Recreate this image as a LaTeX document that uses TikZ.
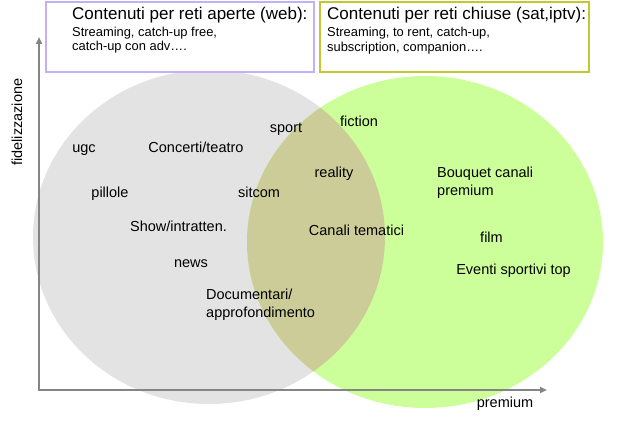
\documentclass[tikz,border=0pt]{standalone}
\usepackage{fontspec}
\setmainfont{Liberation Sans}
\usetikzlibrary{arrows.meta}
\definecolor{graycirc}{HTML}{E3E3E3}
\definecolor{greencirc}{HTML}{CCFF99}
\definecolor{overlapcol}{HTML}{CCCC99}
\definecolor{axisgray}{HTML}{858585}
\definecolor{webborder}{HTML}{C4B0F8}
\definecolor{satborder}{HTML}{C0C832}
\begin{document}
\begin{tikzpicture}[x=1pt,y=-1pt,
  lbl/.style={inner sep=0pt, font=\fontsize{14.5}{17}\selectfont},
  boxtitle/.style={inner sep=0pt, anchor=base west, font=\fontsize{17}{20}\selectfont},
  boxline/.style={inner sep=0pt, anchor=base west, font=\fontsize{12.9}{15}\selectfont},
  contentbox/.style={draw, fill=white, line width=2pt, inner sep=0pt, anchor=north west,
    minimum width=268pt, minimum height=70pt},
  axisline/.style={draw=axisgray, line width=2pt,
    {Triangle[length=7pt,width=6pt]}-{Triangle[length=7pt,width=6pt]}}
]
\useasboundingbox (0,0) rectangle (627,433);
% circles
\fill[graycirc] (209,237) ellipse [x radius=176, y radius=167];
\fill[greencirc] (425,242) ellipse [x radius=178, y radius=166];
\begin{scope}
  \clip (209,237) ellipse [x radius=176, y radius=167];
  \fill[overlapcol] (425,242) ellipse [x radius=178, y radius=166];
\end{scope}
% axes
\coordinate (ytip) at (39,37);
\coordinate (xtip) at (547,390);
\draw[axisline] (ytip) |- (xtip);
\node[lbl, anchor=base] (xlab) at (505,407) {premium};
\node[lbl, anchor=base west, rotate=90] (ylab) at (22,166) {fidelizzazione};
% boxes
\node[contentbox, draw=webborder] (web) at (45,1) {};
\node[contentbox, draw=satborder, minimum width=269pt] (sat) at (319,1) {};
\node[boxtitle] (webt) at (72,20) {Contenuti per reti aperte (web):};
\node[boxline] (web1) at (72,37) {Streaming, catch-up free,};
\node[boxline] (web2) at (72,51) {catch-up con adv….};
\node[boxtitle] (satt) at (327,20) {Contenuti per reti chiuse (sat,iptv):};
\node[boxline] (sat1) at (327,37) {Streaming, to rent, catch-up,};
\node[boxline] (sat2) at (327,52) {subscription, companion….};
% labels
\node[lbl, anchor=base] (ugc) at (84,153) {ugc};
\node[lbl, anchor=base] (concerti) at (196,153) {Concerti/teatro};
\node[lbl, anchor=base] (pillole) at (110,197) {pillole};
\node[lbl, anchor=base] (sport) at (286,133) {sport};
\node[lbl, anchor=base] (fiction) at (359,127) {fiction};
\node[lbl, anchor=base] (reality) at (334,178) {reality};
\node[lbl, anchor=base] (sitcom) at (259,197) {sitcom};
\node[lbl, anchor=base west] (bouquet1) at (437,178) {Bouquet canali};
\node[lbl, anchor=base west] (bouquet2) at (437,196) {premium};
\node[lbl, anchor=base] (show) at (178.5,231) {Show/intratten.};
\node[lbl, anchor=base] (tematici) at (356.5,235) {Canali tematici};
\node[lbl, anchor=base] (film) at (491.5,242) {film};
\node[lbl, anchor=base] (news) at (191,267) {news};
\node[lbl, anchor=base] (eventi) at (513.5,274) {Eventi sportivi top};
\node[lbl, anchor=base west] (doc1) at (206,299) {Documentari/};
\node[lbl, anchor=base west] (doc2) at (206,317) {approfondimento};
\end{tikzpicture}
\end{document}
